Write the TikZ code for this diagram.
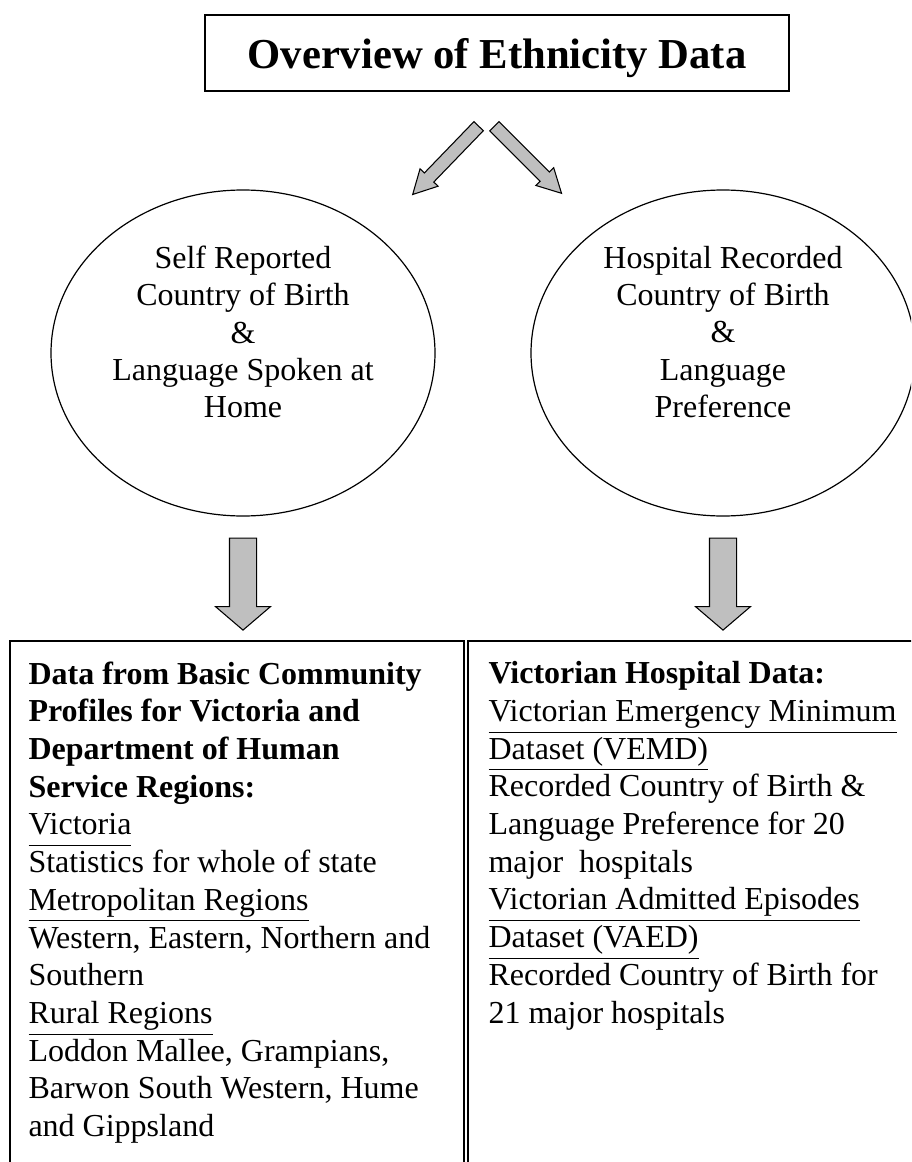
\documentclass[tikz,border=0pt]{standalone}
\usepackage{fontspec}
\setmainfont{Liberation Serif}
\usetikzlibrary{shapes.geometric, shapes.arrows, positioning, calc}

\newcommand{\ulsub}[1]{\underline{#1\vphantom{(}}}

\begin{document}
\begin{tikzpicture}[
  x=0.375pt, y=-0.375pt,
  titlebox/.style={draw, line width=0.6pt, minimum width=219pt, minimum height=28.5pt, inner sep=0pt, text depth=0pt, font=\fontsize{16}{19}\selectfont\bfseries},
  source/.style={draw, ellipse, line width=0.45pt, minimum width=144pt, minimum height=122.25pt, inner sep=0pt},
  sourcetext/.style={align=center, inner sep=0pt, font=\fontsize{12}{14}\selectfont},
  panel/.style={draw, line width=0.6pt, anchor=north west, minimum height=210pt, inner sep=0pt},
  paneltext/.style={align=left, anchor=north west, inner sep=0pt, font=\fontsize{12}{14.14}\selectfont},
  downarrow/.style={single arrow, draw, line width=0.4pt, fill=black!25, minimum height=34.5pt, inner xsep=0pt, inner ysep=4.875pt, single arrow head extend=5.25pt, single arrow tip angle=99, rotate=-90},
  splitarrow/.style={single arrow, draw, line width=0.4pt, fill=black!25, minimum height=35.6pt, inner xsep=0pt, inner ysep=2.25pt, single arrow head extend=2.25pt, single arrow tip angle=56, anchor=tail}
]
\useasboundingbox (0,0) rectangle (911,1162);
\clip (0,0) rectangle (911,1162);

% Title
\node[titlebox] (title) at (497,53) {Overview of Ethnicity Data};

% Two sources of country of birth
\node[source] (selfrep) at (243,353) {};
\node[sourcetext] (selfreptext) at ($(selfrep.center)+(0,-21)$) {Self Reported\\Country of Birth\\\&\\Language Spoken at\\Home};
\node[source] (hosprec) at (723,353) {};
\node[sourcetext] (hosprectext) at ($(hosprec.center)+(0,-21)$) {Hospital Recorded\\Country of Birth\\\&\\Language\\Preference};

% Data panels
\node[panel, minimum width=170.25pt] (commbox) at (9,640) {};
\node[paneltext] (commtext) at (28,661) {\textbf{Data from Basic Community}\\
  \textbf{Profiles for Victoria and}\\
  \textbf{Department of Human}\\
  \textbf{Service Regions:}\\
  \ulsub{Victoria}\\
  Statistics for whole of state\\
  \ulsub{Metropolitan Regions}\\
  Western, Eastern, Northern and\\
  Southern\\
  \ulsub{Rural Regions}\\
  Loddon Mallee, Grampians,\\
  Barwon South Western, Hume\\
  and Gippsland};
\node[panel, minimum width=170pt] (hospbox) at (467,640) {};
\node[paneltext] (hosptext) at (488,661) {\textbf{Victorian Hospital Data:}\\
  \ulsub{Victorian Emergency Minimum}\\
  \ulsub{Dataset (VEMD)}\\
  Recorded Country of Birth \&\\
  Language Preference for 20\\
  major\ \ hospitals\\
  \ulsub{Victorian Admitted Episodes}\\
  \ulsub{Dataset (VAED)}\\
  Recorded Country of Birth for\\
  21 major hospitals};

% Arrows
\coordinate (forkL) at ($(title.south)+(-18,34)$);
\coordinate (forkR) at ($(title.south)+(-3,34)$);
\node[splitarrow, rotate=226] (splitL) at (forkL) {};
\node[splitarrow, rotate=-45] (splitR) at (forkR) {};

\path (selfrep.south) -- (selfrep.south |- commbox.north) node[downarrow, midway] (downL) {};
\path (hosprec.south) -- (hosprec.south |- hospbox.north) node[downarrow, midway] (downR) {};
\end{tikzpicture}
\end{document}
